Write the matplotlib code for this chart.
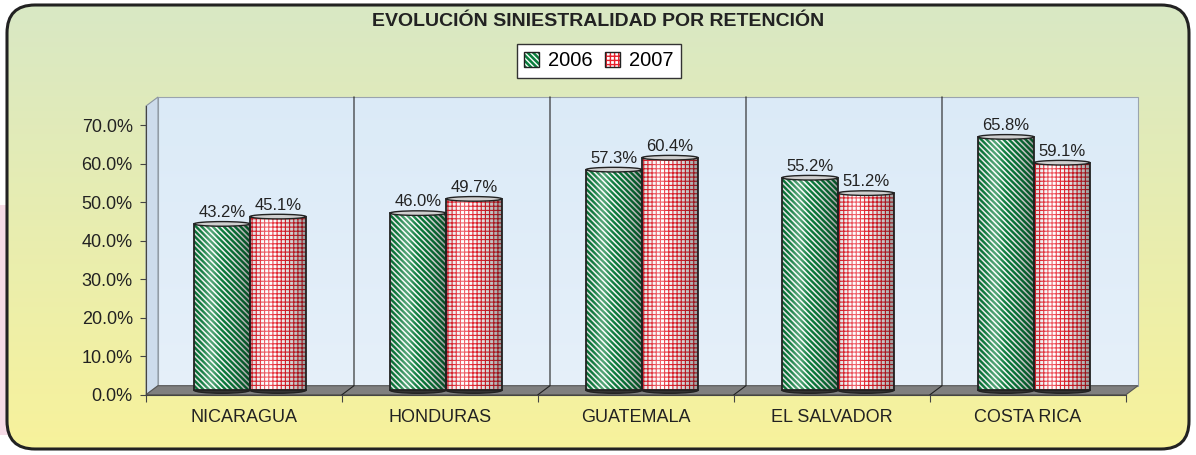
import numpy as np
import matplotlib
matplotlib.use("Agg")
import matplotlib.pyplot as plt
from matplotlib.patches import FancyBboxPatch, Rectangle, Polygon, Ellipse, Patch
from matplotlib.ticker import FixedLocator

plt.rcParams['font.family'] = ['Liberation Sans', 'DejaVu Sans']

categorias = ["NICARAGUA", "HONDURAS", "GUATEMALA", "EL SALVADOR", "COSTA RICA"]
anios = ["2006", "2007"]
v2006 = [43.2, 46.0, 57.3, 55.2, 65.8]
v2007 = [45.1, 49.7, 60.4, 51.2, 59.1]
yticks = [0, 10, 20, 30, 40, 50, 60, 70]

verde = "#0b7f3e"
rojo = "#e8202c"
oscuro = "#222222"

W, H = 1196, 455
fig = plt.figure(figsize=(W / 100, H / 100), dpi=100)
fig.patch.set_facecolor("white")

# fondo: recuadro redondeado con degradado verde -> amarillo
bg = fig.add_axes([0, 0, 1, 1])
bg.set_xlim(0, W)
bg.set_ylim(H, 0)
bg.axis("off")
bg.add_patch(Rectangle((0, 205), 20, 230, facecolor="#f6dbe6", edgecolor="none"))
caja = FancyBboxPatch((7, 5), 1182, 444, boxstyle="round,pad=0,rounding_size=28",
                      facecolor="none", edgecolor=oscuro, linewidth=2.2, zorder=3)
bg.add_patch(caja)
grad = np.linspace(0, 1, 256)[:, None]
top_c = np.array([0.85, 0.91, 0.77])
bot_c = np.array([0.97, 0.95, 0.61])
img = top_c + (bot_c - top_c) * grad[:, :, None]
im = bg.imshow(img, extent=[7, 1189, 449, 5], aspect="auto", zorder=1)
im.set_clip_path(caja)

# ejes del grafico (plano frontal)
ax_l, ax_r, ax_b, ax_t = 146, 1126, 394.7, 106
ax = fig.add_axes([ax_l / W, (H - ax_b) / H, (ax_r - ax_l) / W, (ax_b - ax_t) / H])
ax.patch.set_alpha(0)
ymax = 75
ax.set_xlim(-0.5, 4.5)
ax.set_ylim(0, ymax)
px_x = 5 / (ax_r - ax_l)
px_y = ymax / (ax_b - ax_t)

# profundidad 3D
dx, dy = 12 * px_x, 9 * px_y
# pared trasera
gradw = np.linspace(0, 1, 128)[:, None]
w_top = np.array([0.86, 0.92, 0.97])
w_bot = np.array([0.90, 0.94, 0.98])
wall = w_top + (w_bot - w_top) * gradw[:, :, None]
ax.imshow(wall, extent=[-0.5 + dx, 4.5 + dx, dy, ymax + dy], aspect="auto", zorder=0, clip_on=False)
ax.add_patch(Rectangle((-0.5 + dx, dy), 5, ymax, facecolor="none", edgecolor="#9aa4ae",
                       linewidth=0.8, zorder=0.5, clip_on=False))
# pared izquierda
ax.add_patch(Polygon([(-0.5, 0), (-0.5 + dx, dy), (-0.5 + dx, ymax + dy), (-0.5, ymax)],
                     facecolor="#cddcec", edgecolor="#8c96a0", linewidth=0.8, zorder=0.6, clip_on=False))
# piso
ax.add_patch(Polygon([(-0.5, 0), (4.5, 0), (4.5 + dx, dy), (-0.5 + dx, dy)],
                     facecolor="#7f7f7f", edgecolor="#555555", linewidth=0.8, zorder=0.6, clip_on=False))
# separadores entre categorias
for b in [0.5, 1.5, 2.5, 3.5]:
    ax.plot([b, b + dx, b + dx], [0, dy, ymax + dy], color=oscuro, linewidth=0.8, zorder=0.7, clip_on=False)

# barras tipo cilindro
bw = 56 * px_x
bx, by = 6 * px_x, 4.5 * px_y
t = np.linspace(0, 1, 80)
dark = np.clip(np.abs(t - 0.35) / 0.65, 0, 1) ** 1.6 * 0.4
hi = 0.3 * np.exp(-((t - 0.3) / 0.13) ** 2)
alpha = hi + dark * (1 - hi)
rgb = np.where(alpha > 0, hi / np.maximum(alpha, 1e-6), 0)
shade = np.zeros((1, len(t), 4))
shade[0, :, 0] = rgb
shade[0, :, 1] = rgb
shade[0, :, 2] = rgb
shade[0, :, 3] = alpha

# (valores, color cara, patron, color patron, grosor patron, desplazamiento)
series = [(v2006, verde, "\\" * 6, "white", 1.1, -bw), (v2007, "white", "+" * 4, rojo, 0.8, 0)]
handles = []
for vals, fc, hatch, hc, hlw, off in series:
    with plt.rc_context({"hatch.linewidth": hlw}):
        for i, v in enumerate(vals):
            x0 = i + off + bx
            xc = x0 + bw / 2
            ax.add_patch(Ellipse((xc, by), bw, 1.6, facecolor="#333333", edgecolor=oscuro, zorder=2))
            bar = ax.bar(x0, v, width=bw, bottom=by, align="edge", color=fc, hatch=hatch,
                         edgecolor=hc, linewidth=0, zorder=2.1)[0]
            s = ax.imshow(shade, extent=[x0, x0 + bw, by, by + v], aspect="auto", zorder=2.2)
            s.set_clip_path(bar)
            ax.bar(x0, v, width=bw, bottom=by, align="edge", color="none", edgecolor=oscuro,
                   linewidth=1.3, zorder=2.3)
            ax.add_patch(Ellipse((xc, by + v), bw, 1.2, facecolor="#cfcfcf", edgecolor=oscuro,
                                 linewidth=1.0, zorder=2.4))
            ax.text(xc, by + v + 1.0, f"{v:.1f}%", ha="center", va="bottom", fontsize=12,
                    color=oscuro, zorder=3)
        handles.append((Patch(facecolor=fc, hatch=hatch, edgecolor=hc, linewidth=0),
                        Patch(facecolor="none", edgecolor=oscuro, linewidth=1.0)))

ax.set_ylim(0, ymax)
ax.set_xlim(-0.5, 4.5)

# ejes
for sp in ["top", "right"]:
    ax.spines[sp].set_visible(False)
ax.spines["left"].set_color("#444444")
ax.spines["bottom"].set_color("#444444")
ax.spines["left"].set_bounds(0, ymax)
ax.set_yticks(yticks)
ax.set_yticklabels([f"{y:.1f}%" for y in yticks], fontsize=13, color=oscuro)
ax.tick_params(axis="y", direction="out", length=4, width=0.8, pad=5.5, color="#444444")
ax.set_xticks(range(len(categorias)))
ax.set_xticklabels(categorias, fontsize=13, color=oscuro)
ax.tick_params(axis="x", which="major", length=0, pad=10)
ax.xaxis.set_minor_locator(FixedLocator([-0.5, 0.5, 1.5, 2.5, 3.5, 4.5]))
ax.tick_params(axis="x", which="minor", direction="out", length=5, width=0.8, color="#444444")

# titulo
fig.text(598 / W, 1 - 22 / H, "EVOLUCIÓN SINIESTRALIDAD POR RETENCIÓN", ha="center", va="center",
         fontsize=14, fontweight="bold", color=oscuro)

# leyenda
leg = fig.legend(handles, anios, loc="center", bbox_to_anchor=(599 / W, 1 - 61 / H), ncol=2,
                 fontsize=14.5, frameon=True, fancybox=False, edgecolor="#333333", framealpha=1,
                 handlelength=0.75, handleheight=0.75, handletextpad=0.45, columnspacing=0.6,
                 borderpad=0.35, borderaxespad=0)
leg.get_frame().set_linewidth(1.0)

fig.savefig("out.png", dpi=100)
